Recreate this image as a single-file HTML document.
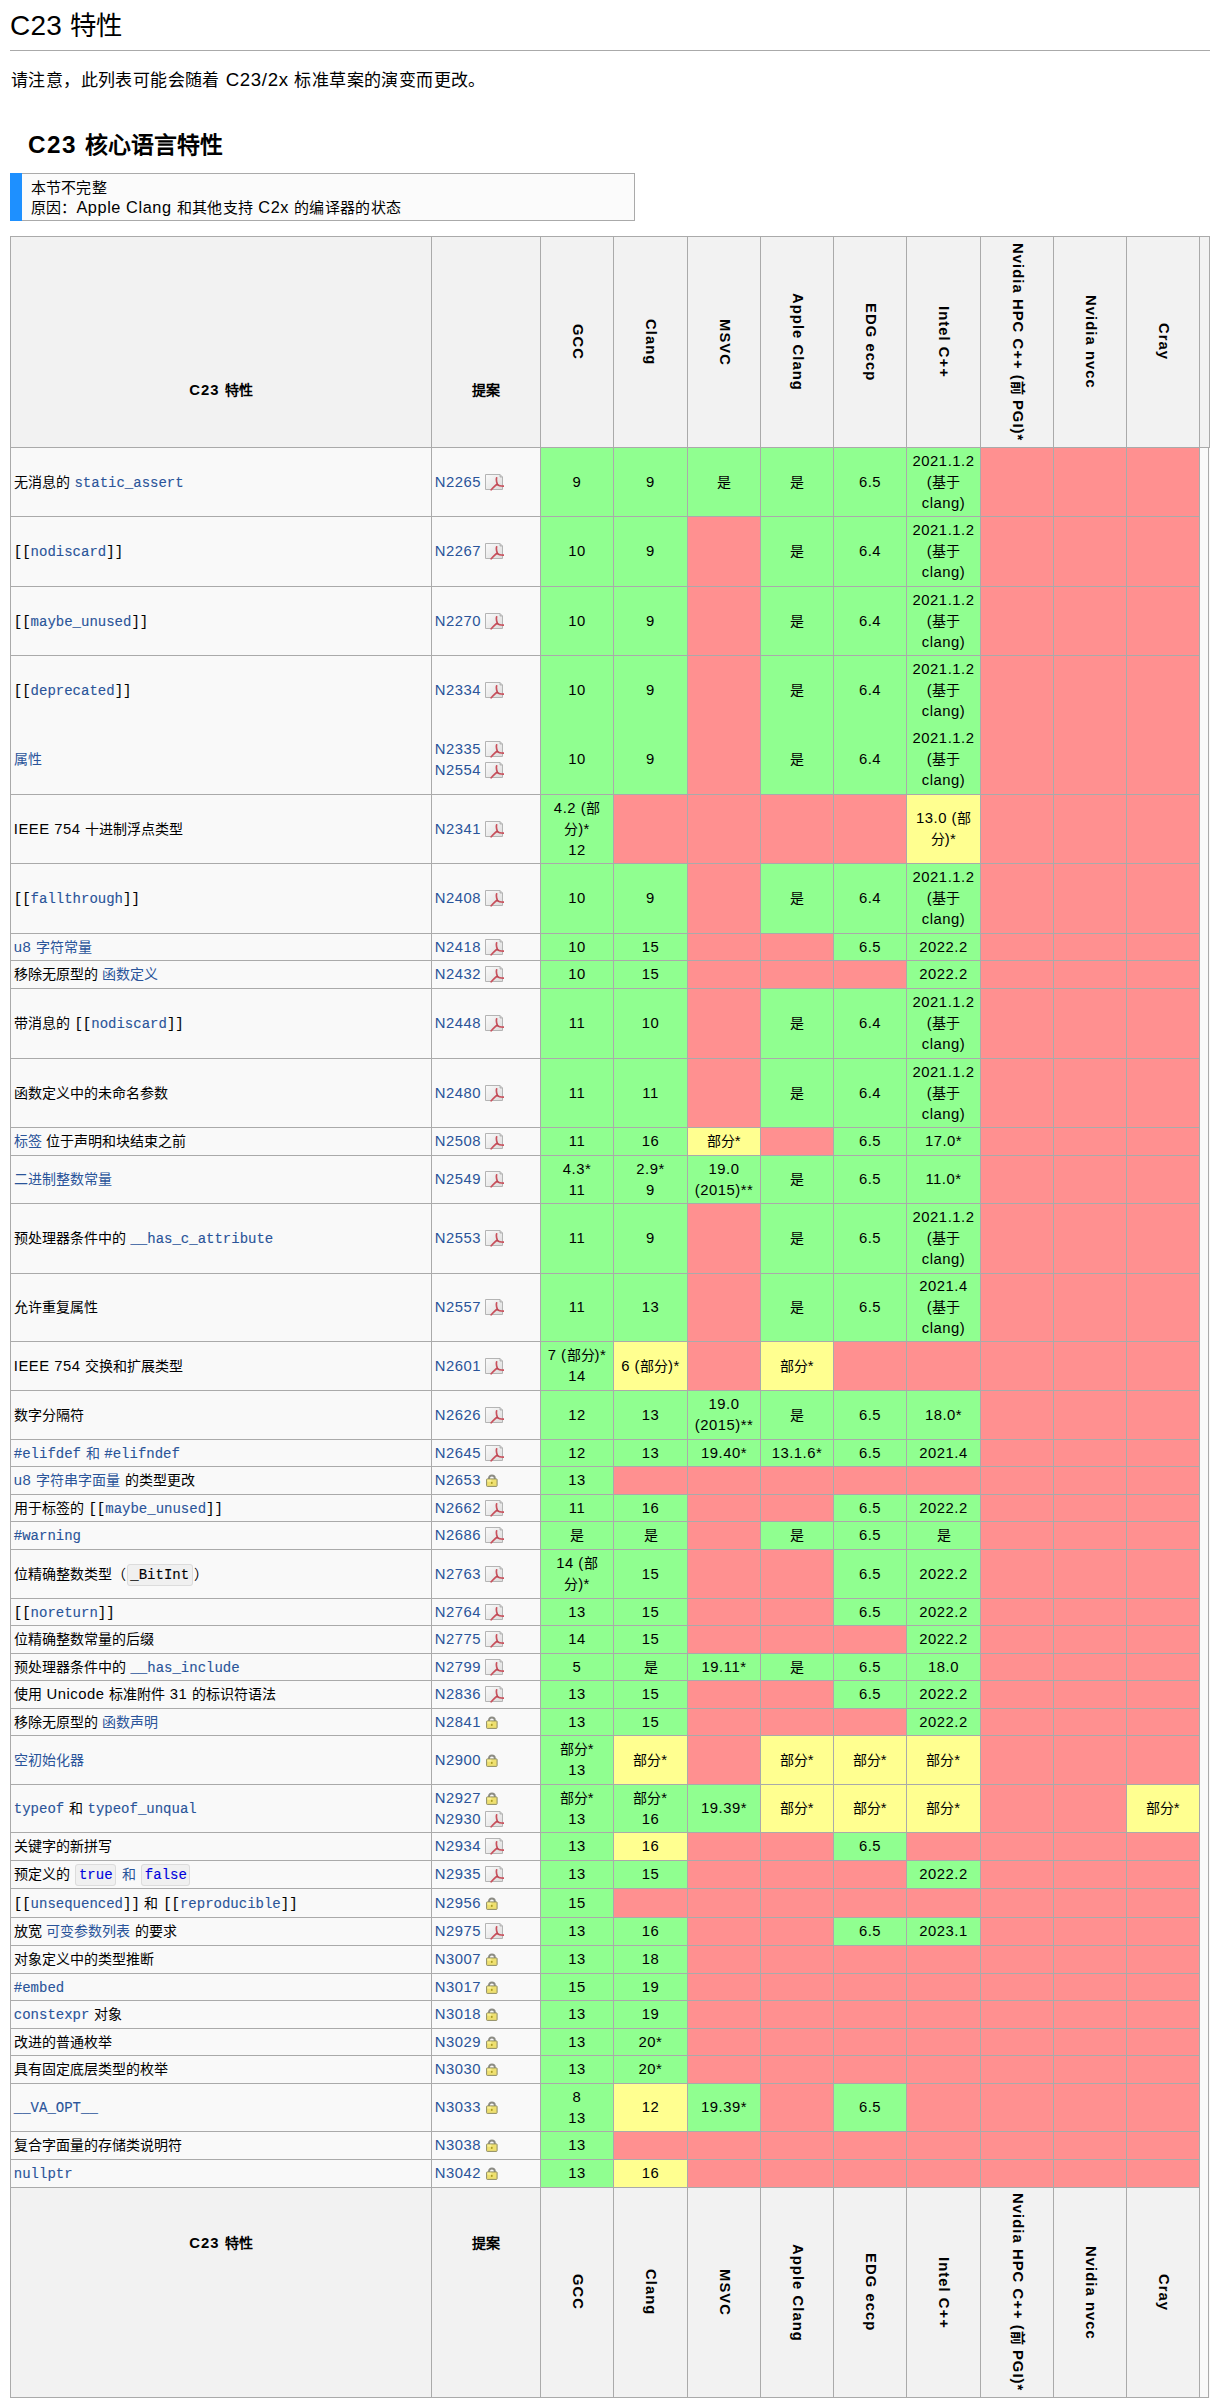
<!DOCTYPE html>
<html lang="zh-CN"><head><meta charset="utf-8"><title>C23</title><style>
html,body{margin:0;padding:0;background:#fff;}
body{width:1219px;height:2406px;position:relative;overflow:hidden;font-family:"Liberation Sans",sans-serif;color:#000;}
.l{font-size:1.06em;letter-spacing:0.035em;line-height:0;}
.abs{position:absolute;white-space:nowrap;}
#title{left:10px;top:1px;font-size:26.4px;line-height:50px;}
#title .l{letter-spacing:0.2px;}
#hr{left:10px;top:50px;width:1200px;height:1px;background:#aaa;}
#para{left:11px;top:66.8px;font-size:17.6px;line-height:26px;}
#para .z{font-size:17px;letter-spacing:0.4px;line-height:0;}
#h3{left:28px;top:130px;font-size:22.9px;line-height:30px;font-weight:bold;}
#h3 .l{letter-spacing:0.06em;}
#notice{left:10px;top:173px;width:612px;height:46px;border:1px solid #aaa;border-left:12px solid #aaa;background:#fbfbfb;font-size:15.4px;line-height:19.7px;}
#notice .bar{position:absolute;left:-12px;top:-1px;width:12px;height:48px;background:#1e90ff;}
#notice .in{position:absolute;left:8.5px;top:4.3px;}
#notice .z{font-size:15px;letter-spacing:0.3px;line-height:0;}
table{position:absolute;left:10px;top:236px;border-collapse:collapse;table-layout:fixed;background:#f9f9f9;font-size:14px;line-height:21px;}
td,th{border:1px solid #aaa;padding:0 2.8px;white-space:nowrap;overflow:hidden;}
th{background:#f2f2f2;font-weight:bold;}
th .l{letter-spacing:0.07em;}
td.g{background:#90ff90;text-align:center;}
td.r{background:#ff9090;}
td.y{background:#ffff90;text-align:center;}
td.f{text-align:left;}
td.p{text-align:left;}
.a{color:#2a5499;}
.m{font-family:"Liberation Mono",monospace;font-size:14px;line-height:0;-webkit-text-stroke:0.12px currentColor;}
.m.a{color:#2a5499;}
.box{font-family:"Liberation Mono",monospace;font-size:14px;-webkit-text-stroke:0.12px currentColor;background:#f0f0f0;border:1px solid #dcdcdc;border-radius:3px;padding:2px 2.5px;margin:0 1px;line-height:0;}
.kw{color:#0000dd;}
.pdf{vertical-align:-4px;margin-left:4px;}
.lock{vertical-align:-2px;margin-left:4px;}
tr.top{height:211px;}
tr.bot{height:210px;}
th.rot{vertical-align:middle;text-align:center;}
.rt{writing-mode:vertical-rl;text-orientation:sideways;display:block;margin:0 auto;}
tr.top th.fh{vertical-align:bottom;padding-bottom:46px;}
tr.bot th.fh{vertical-align:top;padding-top:45px;}
tr.nb td{border-bottom:hidden;}
</style></head>
<body>
<div id="title" class="abs"><span class="l">C23 </span><span class="z">特性</span></div>
<div id="hr" class="abs"></div>
<div id="para" class="abs"><span class="z">请注意，此列表可能会随着</span><span class="l"> C23/2x </span><span class="z">标准草案的演变而更改。</span></div>
<div id="h3" class="abs"><span class="l">C23 </span><span class="z">核心语言特性</span></div>
<div id="notice" class="abs"><div class="bar"></div><div class="in"><span class="z">本节不完整</span><br><span class="z">原因：</span><span class="l">Apple Clang </span><span class="z">和其他支持</span><span class="l"> C2x </span><span class="z">的编译器的状态</span></div></div>
<table>
<colgroup><col style="width:421px"><col style="width:109px"><col style="width:73px"><col style="width:74px"><col style="width:73px"><col style="width:73px"><col style="width:73px"><col style="width:74px"><col style="width:73px"><col style="width:73px"><col style="width:73px"><col style="width:10px"></colgroup>
<tr class="top"><th class="fh"><div class="hl"><span class="l">C23 </span><span class="z">特性</span></div></th><th class="fh"><div class="hl"><span class="z">提案</span></div></th><th class="rot"><div class="rt"><span class="l">GCC</span></div></th><th class="rot"><div class="rt"><span class="l">Clang</span></div></th><th class="rot"><div class="rt"><span class="l">MSVC</span></div></th><th class="rot"><div class="rt"><span class="l">Apple Clang</span></div></th><th class="rot"><div class="rt"><span class="l">EDG eccp</span></div></th><th class="rot"><div class="rt"><span class="l">Intel C++</span></div></th><th class="rot"><div class="rt"><span class="l">Nvidia HPC C++ (</span><span class="z">前</span><span class="l"> PGI)*</span></div></th><th class="rot"><div class="rt"><span class="l">Nvidia nvcc</span></div></th><th class="rot"><div class="rt"><span class="l">Cray</span></div></th><th class="ex"></th></tr>
<tr class="b" style="height:69px"><td class="f"><span class="z">无消息的</span><span class="l"> </span><span class="m a">static_assert</span></td><td class="p"><span class="a"><span class="l">N2265</span></span><svg class="pdf" width="19" height="17" viewBox="0 0 19 17"><defs><linearGradient id="pg" x1="0" y1="0" x2="1" y2="1"><stop offset="0" stop-color="#fbfbfb"/><stop offset="1" stop-color="#dcdcdc"/></linearGradient></defs><path d="M0.5 0.5H15L17.5 3V15.5H0.5Z" fill="url(#pg)" stroke="#b4b4b4"/><path d="M15 0.5V3H17.5" fill="#d0d0d0" stroke="#a8a8a8" stroke-width="0.8"/><path d="M11.6 3.9C11.2 5.5 11.6 8.2 12.4 10.2C13.4 11.6 15.8 12.1 18.6 12.1M12.2 10.4C10.6 11 8.2 13.6 6.2 15.8" fill="none" stroke="#c9505c" stroke-width="1.7" stroke-linecap="round"/><path d="M11.4 10.4C12.4 9.6 13.6 10.8 13.2 11.8" fill="none" stroke="#b04450" stroke-width="1"/></svg></td><td class="g"><span class="l">9</span></td><td class="g"><span class="l">9</span></td><td class="g"><span class="z">是</span></td><td class="g"><span class="z">是</span></td><td class="g"><span class="l">6.5</span></td><td class="g"><span class="l">2021.1.2</span><br><span class="l">(</span><span class="z">基于</span><br><span class="l">clang)</span></td><td class="r"></td><td class="r"></td><td class="r"></td></tr>
<tr class="b" style="height:70px"><td class="f"><span class="m">[[</span><span class="m a">nodiscard</span><span class="m">]]</span></td><td class="p"><span class="a"><span class="l">N2267</span></span><svg class="pdf" width="19" height="17" viewBox="0 0 19 17"><defs><linearGradient id="pg" x1="0" y1="0" x2="1" y2="1"><stop offset="0" stop-color="#fbfbfb"/><stop offset="1" stop-color="#dcdcdc"/></linearGradient></defs><path d="M0.5 0.5H15L17.5 3V15.5H0.5Z" fill="url(#pg)" stroke="#b4b4b4"/><path d="M15 0.5V3H17.5" fill="#d0d0d0" stroke="#a8a8a8" stroke-width="0.8"/><path d="M11.6 3.9C11.2 5.5 11.6 8.2 12.4 10.2C13.4 11.6 15.8 12.1 18.6 12.1M12.2 10.4C10.6 11 8.2 13.6 6.2 15.8" fill="none" stroke="#c9505c" stroke-width="1.7" stroke-linecap="round"/><path d="M11.4 10.4C12.4 9.6 13.6 10.8 13.2 11.8" fill="none" stroke="#b04450" stroke-width="1"/></svg></td><td class="g"><span class="l">10</span></td><td class="g"><span class="l">9</span></td><td class="r"></td><td class="g"><span class="z">是</span></td><td class="g"><span class="l">6.4</span></td><td class="g"><span class="l">2021.1.2</span><br><span class="l">(</span><span class="z">基于</span><br><span class="l">clang)</span></td><td class="r"></td><td class="r"></td><td class="r"></td></tr>
<tr class="b" style="height:69px"><td class="f"><span class="m">[[</span><span class="m a">maybe_unused</span><span class="m">]]</span></td><td class="p"><span class="a"><span class="l">N2270</span></span><svg class="pdf" width="19" height="17" viewBox="0 0 19 17"><defs><linearGradient id="pg" x1="0" y1="0" x2="1" y2="1"><stop offset="0" stop-color="#fbfbfb"/><stop offset="1" stop-color="#dcdcdc"/></linearGradient></defs><path d="M0.5 0.5H15L17.5 3V15.5H0.5Z" fill="url(#pg)" stroke="#b4b4b4"/><path d="M15 0.5V3H17.5" fill="#d0d0d0" stroke="#a8a8a8" stroke-width="0.8"/><path d="M11.6 3.9C11.2 5.5 11.6 8.2 12.4 10.2C13.4 11.6 15.8 12.1 18.6 12.1M12.2 10.4C10.6 11 8.2 13.6 6.2 15.8" fill="none" stroke="#c9505c" stroke-width="1.7" stroke-linecap="round"/><path d="M11.4 10.4C12.4 9.6 13.6 10.8 13.2 11.8" fill="none" stroke="#b04450" stroke-width="1"/></svg></td><td class="g"><span class="l">10</span></td><td class="g"><span class="l">9</span></td><td class="r"></td><td class="g"><span class="z">是</span></td><td class="g"><span class="l">6.4</span></td><td class="g"><span class="l">2021.1.2</span><br><span class="l">(</span><span class="z">基于</span><br><span class="l">clang)</span></td><td class="r"></td><td class="r"></td><td class="r"></td></tr>
<tr class="b nb" style="height:70px"><td class="f"><span class="m">[[</span><span class="m a">deprecated</span><span class="m">]]</span></td><td class="p"><span class="a"><span class="l">N2334</span></span><svg class="pdf" width="19" height="17" viewBox="0 0 19 17"><defs><linearGradient id="pg" x1="0" y1="0" x2="1" y2="1"><stop offset="0" stop-color="#fbfbfb"/><stop offset="1" stop-color="#dcdcdc"/></linearGradient></defs><path d="M0.5 0.5H15L17.5 3V15.5H0.5Z" fill="url(#pg)" stroke="#b4b4b4"/><path d="M15 0.5V3H17.5" fill="#d0d0d0" stroke="#a8a8a8" stroke-width="0.8"/><path d="M11.6 3.9C11.2 5.5 11.6 8.2 12.4 10.2C13.4 11.6 15.8 12.1 18.6 12.1M12.2 10.4C10.6 11 8.2 13.6 6.2 15.8" fill="none" stroke="#c9505c" stroke-width="1.7" stroke-linecap="round"/><path d="M11.4 10.4C12.4 9.6 13.6 10.8 13.2 11.8" fill="none" stroke="#b04450" stroke-width="1"/></svg></td><td class="g"><span class="l">10</span></td><td class="g"><span class="l">9</span></td><td class="r"></td><td class="g"><span class="z">是</span></td><td class="g"><span class="l">6.4</span></td><td class="g"><span class="l">2021.1.2</span><br><span class="l">(</span><span class="z">基于</span><br><span class="l">clang)</span></td><td class="r"></td><td class="r"></td><td class="r"></td></tr>
<tr class="b" style="height:69px"><td class="f"><span class="a"><span class="z">属性</span></span></td><td class="p"><span class="a"><span class="l">N2335</span></span><svg class="pdf" width="19" height="17" viewBox="0 0 19 17"><defs><linearGradient id="pg" x1="0" y1="0" x2="1" y2="1"><stop offset="0" stop-color="#fbfbfb"/><stop offset="1" stop-color="#dcdcdc"/></linearGradient></defs><path d="M0.5 0.5H15L17.5 3V15.5H0.5Z" fill="url(#pg)" stroke="#b4b4b4"/><path d="M15 0.5V3H17.5" fill="#d0d0d0" stroke="#a8a8a8" stroke-width="0.8"/><path d="M11.6 3.9C11.2 5.5 11.6 8.2 12.4 10.2C13.4 11.6 15.8 12.1 18.6 12.1M12.2 10.4C10.6 11 8.2 13.6 6.2 15.8" fill="none" stroke="#c9505c" stroke-width="1.7" stroke-linecap="round"/><path d="M11.4 10.4C12.4 9.6 13.6 10.8 13.2 11.8" fill="none" stroke="#b04450" stroke-width="1"/></svg><br><span class="a"><span class="l">N2554</span></span><svg class="pdf" width="19" height="17" viewBox="0 0 19 17"><defs><linearGradient id="pg" x1="0" y1="0" x2="1" y2="1"><stop offset="0" stop-color="#fbfbfb"/><stop offset="1" stop-color="#dcdcdc"/></linearGradient></defs><path d="M0.5 0.5H15L17.5 3V15.5H0.5Z" fill="url(#pg)" stroke="#b4b4b4"/><path d="M15 0.5V3H17.5" fill="#d0d0d0" stroke="#a8a8a8" stroke-width="0.8"/><path d="M11.6 3.9C11.2 5.5 11.6 8.2 12.4 10.2C13.4 11.6 15.8 12.1 18.6 12.1M12.2 10.4C10.6 11 8.2 13.6 6.2 15.8" fill="none" stroke="#c9505c" stroke-width="1.7" stroke-linecap="round"/><path d="M11.4 10.4C12.4 9.6 13.6 10.8 13.2 11.8" fill="none" stroke="#b04450" stroke-width="1"/></svg></td><td class="g"><span class="l">10</span></td><td class="g"><span class="l">9</span></td><td class="r"></td><td class="g"><span class="z">是</span></td><td class="g"><span class="l">6.4</span></td><td class="g"><span class="l">2021.1.2</span><br><span class="l">(</span><span class="z">基于</span><br><span class="l">clang)</span></td><td class="r"></td><td class="r"></td><td class="r"></td></tr>
<tr class="b" style="height:69px"><td class="f"><span class="l">IEEE 754 </span><span class="z">十进制浮点类型</span></td><td class="p"><span class="a"><span class="l">N2341</span></span><svg class="pdf" width="19" height="17" viewBox="0 0 19 17"><defs><linearGradient id="pg" x1="0" y1="0" x2="1" y2="1"><stop offset="0" stop-color="#fbfbfb"/><stop offset="1" stop-color="#dcdcdc"/></linearGradient></defs><path d="M0.5 0.5H15L17.5 3V15.5H0.5Z" fill="url(#pg)" stroke="#b4b4b4"/><path d="M15 0.5V3H17.5" fill="#d0d0d0" stroke="#a8a8a8" stroke-width="0.8"/><path d="M11.6 3.9C11.2 5.5 11.6 8.2 12.4 10.2C13.4 11.6 15.8 12.1 18.6 12.1M12.2 10.4C10.6 11 8.2 13.6 6.2 15.8" fill="none" stroke="#c9505c" stroke-width="1.7" stroke-linecap="round"/><path d="M11.4 10.4C12.4 9.6 13.6 10.8 13.2 11.8" fill="none" stroke="#b04450" stroke-width="1"/></svg></td><td class="g"><span class="l">4.2 (</span><span class="z">部</span><br><span class="z">分</span><span class="l">)*</span><br><span class="l">12</span></td><td class="r"></td><td class="r"></td><td class="r"></td><td class="r"></td><td class="y"><span class="l">13.0 (</span><span class="z">部</span><br><span class="z">分</span><span class="l">)*</span></td><td class="r"></td><td class="r"></td><td class="r"></td></tr>
<tr class="b" style="height:70px"><td class="f"><span class="m">[[</span><span class="m a">fallthrough</span><span class="m">]]</span></td><td class="p"><span class="a"><span class="l">N2408</span></span><svg class="pdf" width="19" height="17" viewBox="0 0 19 17"><defs><linearGradient id="pg" x1="0" y1="0" x2="1" y2="1"><stop offset="0" stop-color="#fbfbfb"/><stop offset="1" stop-color="#dcdcdc"/></linearGradient></defs><path d="M0.5 0.5H15L17.5 3V15.5H0.5Z" fill="url(#pg)" stroke="#b4b4b4"/><path d="M15 0.5V3H17.5" fill="#d0d0d0" stroke="#a8a8a8" stroke-width="0.8"/><path d="M11.6 3.9C11.2 5.5 11.6 8.2 12.4 10.2C13.4 11.6 15.8 12.1 18.6 12.1M12.2 10.4C10.6 11 8.2 13.6 6.2 15.8" fill="none" stroke="#c9505c" stroke-width="1.7" stroke-linecap="round"/><path d="M11.4 10.4C12.4 9.6 13.6 10.8 13.2 11.8" fill="none" stroke="#b04450" stroke-width="1"/></svg></td><td class="g"><span class="l">10</span></td><td class="g"><span class="l">9</span></td><td class="r"></td><td class="g"><span class="z">是</span></td><td class="g"><span class="l">6.4</span></td><td class="g"><span class="l">2021.1.2</span><br><span class="l">(</span><span class="z">基于</span><br><span class="l">clang)</span></td><td class="r"></td><td class="r"></td><td class="r"></td></tr>
<tr class="b" style="height:27px"><td class="f"><span class="a"><span class="l">u8 </span><span class="z">字符常量</span></span></td><td class="p"><span class="a"><span class="l">N2418</span></span><svg class="pdf" width="19" height="17" viewBox="0 0 19 17"><defs><linearGradient id="pg" x1="0" y1="0" x2="1" y2="1"><stop offset="0" stop-color="#fbfbfb"/><stop offset="1" stop-color="#dcdcdc"/></linearGradient></defs><path d="M0.5 0.5H15L17.5 3V15.5H0.5Z" fill="url(#pg)" stroke="#b4b4b4"/><path d="M15 0.5V3H17.5" fill="#d0d0d0" stroke="#a8a8a8" stroke-width="0.8"/><path d="M11.6 3.9C11.2 5.5 11.6 8.2 12.4 10.2C13.4 11.6 15.8 12.1 18.6 12.1M12.2 10.4C10.6 11 8.2 13.6 6.2 15.8" fill="none" stroke="#c9505c" stroke-width="1.7" stroke-linecap="round"/><path d="M11.4 10.4C12.4 9.6 13.6 10.8 13.2 11.8" fill="none" stroke="#b04450" stroke-width="1"/></svg></td><td class="g"><span class="l">10</span></td><td class="g"><span class="l">15</span></td><td class="r"></td><td class="r"></td><td class="g"><span class="l">6.5</span></td><td class="g"><span class="l">2022.2</span></td><td class="r"></td><td class="r"></td><td class="r"></td></tr>
<tr class="b" style="height:28px"><td class="f"><span class="z">移除无原型的</span><span class="l"> </span><span class="a"><span class="z">函数定义</span></span></td><td class="p"><span class="a"><span class="l">N2432</span></span><svg class="pdf" width="19" height="17" viewBox="0 0 19 17"><defs><linearGradient id="pg" x1="0" y1="0" x2="1" y2="1"><stop offset="0" stop-color="#fbfbfb"/><stop offset="1" stop-color="#dcdcdc"/></linearGradient></defs><path d="M0.5 0.5H15L17.5 3V15.5H0.5Z" fill="url(#pg)" stroke="#b4b4b4"/><path d="M15 0.5V3H17.5" fill="#d0d0d0" stroke="#a8a8a8" stroke-width="0.8"/><path d="M11.6 3.9C11.2 5.5 11.6 8.2 12.4 10.2C13.4 11.6 15.8 12.1 18.6 12.1M12.2 10.4C10.6 11 8.2 13.6 6.2 15.8" fill="none" stroke="#c9505c" stroke-width="1.7" stroke-linecap="round"/><path d="M11.4 10.4C12.4 9.6 13.6 10.8 13.2 11.8" fill="none" stroke="#b04450" stroke-width="1"/></svg></td><td class="g"><span class="l">10</span></td><td class="g"><span class="l">15</span></td><td class="r"></td><td class="r"></td><td class="r"></td><td class="g"><span class="l">2022.2</span></td><td class="r"></td><td class="r"></td><td class="r"></td></tr>
<tr class="b" style="height:70px"><td class="f"><span class="z">带消息的</span><span class="l"> </span><span class="m">[[</span><span class="m a">nodiscard</span><span class="m">]]</span></td><td class="p"><span class="a"><span class="l">N2448</span></span><svg class="pdf" width="19" height="17" viewBox="0 0 19 17"><defs><linearGradient id="pg" x1="0" y1="0" x2="1" y2="1"><stop offset="0" stop-color="#fbfbfb"/><stop offset="1" stop-color="#dcdcdc"/></linearGradient></defs><path d="M0.5 0.5H15L17.5 3V15.5H0.5Z" fill="url(#pg)" stroke="#b4b4b4"/><path d="M15 0.5V3H17.5" fill="#d0d0d0" stroke="#a8a8a8" stroke-width="0.8"/><path d="M11.6 3.9C11.2 5.5 11.6 8.2 12.4 10.2C13.4 11.6 15.8 12.1 18.6 12.1M12.2 10.4C10.6 11 8.2 13.6 6.2 15.8" fill="none" stroke="#c9505c" stroke-width="1.7" stroke-linecap="round"/><path d="M11.4 10.4C12.4 9.6 13.6 10.8 13.2 11.8" fill="none" stroke="#b04450" stroke-width="1"/></svg></td><td class="g"><span class="l">11</span></td><td class="g"><span class="l">10</span></td><td class="r"></td><td class="g"><span class="z">是</span></td><td class="g"><span class="l">6.4</span></td><td class="g"><span class="l">2021.1.2</span><br><span class="l">(</span><span class="z">基于</span><br><span class="l">clang)</span></td><td class="r"></td><td class="r"></td><td class="r"></td></tr>
<tr class="b" style="height:69px"><td class="f"><span class="z">函数定义中的未命名参数</span></td><td class="p"><span class="a"><span class="l">N2480</span></span><svg class="pdf" width="19" height="17" viewBox="0 0 19 17"><defs><linearGradient id="pg" x1="0" y1="0" x2="1" y2="1"><stop offset="0" stop-color="#fbfbfb"/><stop offset="1" stop-color="#dcdcdc"/></linearGradient></defs><path d="M0.5 0.5H15L17.5 3V15.5H0.5Z" fill="url(#pg)" stroke="#b4b4b4"/><path d="M15 0.5V3H17.5" fill="#d0d0d0" stroke="#a8a8a8" stroke-width="0.8"/><path d="M11.6 3.9C11.2 5.5 11.6 8.2 12.4 10.2C13.4 11.6 15.8 12.1 18.6 12.1M12.2 10.4C10.6 11 8.2 13.6 6.2 15.8" fill="none" stroke="#c9505c" stroke-width="1.7" stroke-linecap="round"/><path d="M11.4 10.4C12.4 9.6 13.6 10.8 13.2 11.8" fill="none" stroke="#b04450" stroke-width="1"/></svg></td><td class="g"><span class="l">11</span></td><td class="g"><span class="l">11</span></td><td class="r"></td><td class="g"><span class="z">是</span></td><td class="g"><span class="l">6.4</span></td><td class="g"><span class="l">2021.1.2</span><br><span class="l">(</span><span class="z">基于</span><br><span class="l">clang)</span></td><td class="r"></td><td class="r"></td><td class="r"></td></tr>
<tr class="b" style="height:28px"><td class="f"><span class="a"><span class="z">标签</span></span><span class="l"> </span><span class="z">位于声明和块结束之前</span></td><td class="p"><span class="a"><span class="l">N2508</span></span><svg class="pdf" width="19" height="17" viewBox="0 0 19 17"><defs><linearGradient id="pg" x1="0" y1="0" x2="1" y2="1"><stop offset="0" stop-color="#fbfbfb"/><stop offset="1" stop-color="#dcdcdc"/></linearGradient></defs><path d="M0.5 0.5H15L17.5 3V15.5H0.5Z" fill="url(#pg)" stroke="#b4b4b4"/><path d="M15 0.5V3H17.5" fill="#d0d0d0" stroke="#a8a8a8" stroke-width="0.8"/><path d="M11.6 3.9C11.2 5.5 11.6 8.2 12.4 10.2C13.4 11.6 15.8 12.1 18.6 12.1M12.2 10.4C10.6 11 8.2 13.6 6.2 15.8" fill="none" stroke="#c9505c" stroke-width="1.7" stroke-linecap="round"/><path d="M11.4 10.4C12.4 9.6 13.6 10.8 13.2 11.8" fill="none" stroke="#b04450" stroke-width="1"/></svg></td><td class="g"><span class="l">11</span></td><td class="g"><span class="l">16</span></td><td class="y"><span class="z">部分</span><span class="l">*</span></td><td class="r"></td><td class="g"><span class="l">6.5</span></td><td class="g"><span class="l">17.0*</span></td><td class="r"></td><td class="r"></td><td class="r"></td></tr>
<tr class="b" style="height:48px"><td class="f"><span class="a"><span class="z">二进制整数常量</span></span></td><td class="p"><span class="a"><span class="l">N2549</span></span><svg class="pdf" width="19" height="17" viewBox="0 0 19 17"><defs><linearGradient id="pg" x1="0" y1="0" x2="1" y2="1"><stop offset="0" stop-color="#fbfbfb"/><stop offset="1" stop-color="#dcdcdc"/></linearGradient></defs><path d="M0.5 0.5H15L17.5 3V15.5H0.5Z" fill="url(#pg)" stroke="#b4b4b4"/><path d="M15 0.5V3H17.5" fill="#d0d0d0" stroke="#a8a8a8" stroke-width="0.8"/><path d="M11.6 3.9C11.2 5.5 11.6 8.2 12.4 10.2C13.4 11.6 15.8 12.1 18.6 12.1M12.2 10.4C10.6 11 8.2 13.6 6.2 15.8" fill="none" stroke="#c9505c" stroke-width="1.7" stroke-linecap="round"/><path d="M11.4 10.4C12.4 9.6 13.6 10.8 13.2 11.8" fill="none" stroke="#b04450" stroke-width="1"/></svg></td><td class="g"><span class="l">4.3*</span><br><span class="l">11</span></td><td class="g"><span class="l">2.9*</span><br><span class="l">9</span></td><td class="g"><span class="l">19.0</span><br><span class="l">(2015)**</span></td><td class="g"><span class="z">是</span></td><td class="g"><span class="l">6.5</span></td><td class="g"><span class="l">11.0*</span></td><td class="r"></td><td class="r"></td><td class="r"></td></tr>
<tr class="b" style="height:70px"><td class="f"><span class="z">预处理器条件中的</span><span class="l"> </span><span class="m a">__has_c_attribute</span></td><td class="p"><span class="a"><span class="l">N2553</span></span><svg class="pdf" width="19" height="17" viewBox="0 0 19 17"><defs><linearGradient id="pg" x1="0" y1="0" x2="1" y2="1"><stop offset="0" stop-color="#fbfbfb"/><stop offset="1" stop-color="#dcdcdc"/></linearGradient></defs><path d="M0.5 0.5H15L17.5 3V15.5H0.5Z" fill="url(#pg)" stroke="#b4b4b4"/><path d="M15 0.5V3H17.5" fill="#d0d0d0" stroke="#a8a8a8" stroke-width="0.8"/><path d="M11.6 3.9C11.2 5.5 11.6 8.2 12.4 10.2C13.4 11.6 15.8 12.1 18.6 12.1M12.2 10.4C10.6 11 8.2 13.6 6.2 15.8" fill="none" stroke="#c9505c" stroke-width="1.7" stroke-linecap="round"/><path d="M11.4 10.4C12.4 9.6 13.6 10.8 13.2 11.8" fill="none" stroke="#b04450" stroke-width="1"/></svg></td><td class="g"><span class="l">11</span></td><td class="g"><span class="l">9</span></td><td class="r"></td><td class="g"><span class="z">是</span></td><td class="g"><span class="l">6.5</span></td><td class="g"><span class="l">2021.1.2</span><br><span class="l">(</span><span class="z">基于</span><br><span class="l">clang)</span></td><td class="r"></td><td class="r"></td><td class="r"></td></tr>
<tr class="b" style="height:68px"><td class="f"><span class="z">允许重复属性</span></td><td class="p"><span class="a"><span class="l">N2557</span></span><svg class="pdf" width="19" height="17" viewBox="0 0 19 17"><defs><linearGradient id="pg" x1="0" y1="0" x2="1" y2="1"><stop offset="0" stop-color="#fbfbfb"/><stop offset="1" stop-color="#dcdcdc"/></linearGradient></defs><path d="M0.5 0.5H15L17.5 3V15.5H0.5Z" fill="url(#pg)" stroke="#b4b4b4"/><path d="M15 0.5V3H17.5" fill="#d0d0d0" stroke="#a8a8a8" stroke-width="0.8"/><path d="M11.6 3.9C11.2 5.5 11.6 8.2 12.4 10.2C13.4 11.6 15.8 12.1 18.6 12.1M12.2 10.4C10.6 11 8.2 13.6 6.2 15.8" fill="none" stroke="#c9505c" stroke-width="1.7" stroke-linecap="round"/><path d="M11.4 10.4C12.4 9.6 13.6 10.8 13.2 11.8" fill="none" stroke="#b04450" stroke-width="1"/></svg></td><td class="g"><span class="l">11</span></td><td class="g"><span class="l">13</span></td><td class="r"></td><td class="g"><span class="z">是</span></td><td class="g"><span class="l">6.5</span></td><td class="g"><span class="l">2021.4</span><br><span class="l">(</span><span class="z">基于</span><br><span class="l">clang)</span></td><td class="r"></td><td class="r"></td><td class="r"></td></tr>
<tr class="b" style="height:49px"><td class="f"><span class="l">IEEE 754 </span><span class="z">交换和扩展类型</span></td><td class="p"><span class="a"><span class="l">N2601</span></span><svg class="pdf" width="19" height="17" viewBox="0 0 19 17"><defs><linearGradient id="pg" x1="0" y1="0" x2="1" y2="1"><stop offset="0" stop-color="#fbfbfb"/><stop offset="1" stop-color="#dcdcdc"/></linearGradient></defs><path d="M0.5 0.5H15L17.5 3V15.5H0.5Z" fill="url(#pg)" stroke="#b4b4b4"/><path d="M15 0.5V3H17.5" fill="#d0d0d0" stroke="#a8a8a8" stroke-width="0.8"/><path d="M11.6 3.9C11.2 5.5 11.6 8.2 12.4 10.2C13.4 11.6 15.8 12.1 18.6 12.1M12.2 10.4C10.6 11 8.2 13.6 6.2 15.8" fill="none" stroke="#c9505c" stroke-width="1.7" stroke-linecap="round"/><path d="M11.4 10.4C12.4 9.6 13.6 10.8 13.2 11.8" fill="none" stroke="#b04450" stroke-width="1"/></svg></td><td class="g"><span class="l">7 (</span><span class="z">部分</span><span class="l">)*</span><br><span class="l">14</span></td><td class="y"><span class="l">6 (</span><span class="z">部分</span><span class="l">)*</span></td><td class="r"></td><td class="y"><span class="z">部分</span><span class="l">*</span></td><td class="r"></td><td class="r"></td><td class="r"></td><td class="r"></td><td class="r"></td></tr>
<tr class="b" style="height:49px"><td class="f"><span class="z">数字分隔符</span></td><td class="p"><span class="a"><span class="l">N2626</span></span><svg class="pdf" width="19" height="17" viewBox="0 0 19 17"><defs><linearGradient id="pg" x1="0" y1="0" x2="1" y2="1"><stop offset="0" stop-color="#fbfbfb"/><stop offset="1" stop-color="#dcdcdc"/></linearGradient></defs><path d="M0.5 0.5H15L17.5 3V15.5H0.5Z" fill="url(#pg)" stroke="#b4b4b4"/><path d="M15 0.5V3H17.5" fill="#d0d0d0" stroke="#a8a8a8" stroke-width="0.8"/><path d="M11.6 3.9C11.2 5.5 11.6 8.2 12.4 10.2C13.4 11.6 15.8 12.1 18.6 12.1M12.2 10.4C10.6 11 8.2 13.6 6.2 15.8" fill="none" stroke="#c9505c" stroke-width="1.7" stroke-linecap="round"/><path d="M11.4 10.4C12.4 9.6 13.6 10.8 13.2 11.8" fill="none" stroke="#b04450" stroke-width="1"/></svg></td><td class="g"><span class="l">12</span></td><td class="g"><span class="l">13</span></td><td class="g"><span class="l">19.0</span><br><span class="l">(2015)**</span></td><td class="g"><span class="z">是</span></td><td class="g"><span class="l">6.5</span></td><td class="g"><span class="l">18.0*</span></td><td class="r"></td><td class="r"></td><td class="r"></td></tr>
<tr class="b" style="height:27px"><td class="f"><span class="m a">#elifdef</span><span class="l"> </span><span class="a"><span class="z">和</span></span><span class="l"> </span><span class="m a">#elifndef</span></td><td class="p"><span class="a"><span class="l">N2645</span></span><svg class="pdf" width="19" height="17" viewBox="0 0 19 17"><defs><linearGradient id="pg" x1="0" y1="0" x2="1" y2="1"><stop offset="0" stop-color="#fbfbfb"/><stop offset="1" stop-color="#dcdcdc"/></linearGradient></defs><path d="M0.5 0.5H15L17.5 3V15.5H0.5Z" fill="url(#pg)" stroke="#b4b4b4"/><path d="M15 0.5V3H17.5" fill="#d0d0d0" stroke="#a8a8a8" stroke-width="0.8"/><path d="M11.6 3.9C11.2 5.5 11.6 8.2 12.4 10.2C13.4 11.6 15.8 12.1 18.6 12.1M12.2 10.4C10.6 11 8.2 13.6 6.2 15.8" fill="none" stroke="#c9505c" stroke-width="1.7" stroke-linecap="round"/><path d="M11.4 10.4C12.4 9.6 13.6 10.8 13.2 11.8" fill="none" stroke="#b04450" stroke-width="1"/></svg></td><td class="g"><span class="l">12</span></td><td class="g"><span class="l">13</span></td><td class="g"><span class="l">19.40*</span></td><td class="g"><span class="l">13.1.6*</span></td><td class="g"><span class="l">6.5</span></td><td class="g"><span class="l">2021.4</span></td><td class="r"></td><td class="r"></td><td class="r"></td></tr>
<tr class="b" style="height:28px"><td class="f"><span class="a"><span class="l">u8 </span><span class="z">字符串字面量</span></span><span class="l"> </span><span class="z">的类型更改</span></td><td class="p"><span class="a"><span class="l">N2653</span></span><svg class="lock" width="13" height="13" viewBox="0 0 13 13"><path d="M4 5.2V4.3C4 2.3 5.1 1.5 6.9 1.5C8.7 1.5 9.8 2.3 9.8 4.3V5.2" fill="none" stroke="#8c8c84" stroke-width="1.9"/><rect x="1.6" y="4.9" width="10.5" height="7.5" rx="0.7" fill="#efe070" stroke="#8e8c66" stroke-width="1"/><rect x="2.4" y="5.7" width="4" height="2" fill="#f8f098"/><ellipse cx="6.8" cy="8.9" rx="0.9" ry="1.1" fill="#a89a20"/></svg></td><td class="g"><span class="l">13</span></td><td class="r"></td><td class="r"></td><td class="r"></td><td class="r"></td><td class="r"></td><td class="r"></td><td class="r"></td><td class="r"></td></tr>
<tr class="b" style="height:27px"><td class="f"><span class="z">用于标签的</span><span class="l"> </span><span class="m">[[</span><span class="m a">maybe_unused</span><span class="m">]]</span></td><td class="p"><span class="a"><span class="l">N2662</span></span><svg class="pdf" width="19" height="17" viewBox="0 0 19 17"><defs><linearGradient id="pg" x1="0" y1="0" x2="1" y2="1"><stop offset="0" stop-color="#fbfbfb"/><stop offset="1" stop-color="#dcdcdc"/></linearGradient></defs><path d="M0.5 0.5H15L17.5 3V15.5H0.5Z" fill="url(#pg)" stroke="#b4b4b4"/><path d="M15 0.5V3H17.5" fill="#d0d0d0" stroke="#a8a8a8" stroke-width="0.8"/><path d="M11.6 3.9C11.2 5.5 11.6 8.2 12.4 10.2C13.4 11.6 15.8 12.1 18.6 12.1M12.2 10.4C10.6 11 8.2 13.6 6.2 15.8" fill="none" stroke="#c9505c" stroke-width="1.7" stroke-linecap="round"/><path d="M11.4 10.4C12.4 9.6 13.6 10.8 13.2 11.8" fill="none" stroke="#b04450" stroke-width="1"/></svg></td><td class="g"><span class="l">11</span></td><td class="g"><span class="l">16</span></td><td class="r"></td><td class="r"></td><td class="g"><span class="l">6.5</span></td><td class="g"><span class="l">2022.2</span></td><td class="r"></td><td class="r"></td><td class="r"></td></tr>
<tr class="b" style="height:28px"><td class="f"><span class="m a">#warning</span></td><td class="p"><span class="a"><span class="l">N2686</span></span><svg class="pdf" width="19" height="17" viewBox="0 0 19 17"><defs><linearGradient id="pg" x1="0" y1="0" x2="1" y2="1"><stop offset="0" stop-color="#fbfbfb"/><stop offset="1" stop-color="#dcdcdc"/></linearGradient></defs><path d="M0.5 0.5H15L17.5 3V15.5H0.5Z" fill="url(#pg)" stroke="#b4b4b4"/><path d="M15 0.5V3H17.5" fill="#d0d0d0" stroke="#a8a8a8" stroke-width="0.8"/><path d="M11.6 3.9C11.2 5.5 11.6 8.2 12.4 10.2C13.4 11.6 15.8 12.1 18.6 12.1M12.2 10.4C10.6 11 8.2 13.6 6.2 15.8" fill="none" stroke="#c9505c" stroke-width="1.7" stroke-linecap="round"/><path d="M11.4 10.4C12.4 9.6 13.6 10.8 13.2 11.8" fill="none" stroke="#b04450" stroke-width="1"/></svg></td><td class="g"><span class="z">是</span></td><td class="g"><span class="z">是</span></td><td class="r"></td><td class="g"><span class="z">是</span></td><td class="g"><span class="l">6.5</span></td><td class="g"><span class="z">是</span></td><td class="r"></td><td class="r"></td><td class="r"></td></tr>
<tr class="b" style="height:49px"><td class="f"><span class="z">位精确整数类型（</span><span class="box">_BitInt</span><span class="z">）</span></td><td class="p"><span class="a"><span class="l">N2763</span></span><svg class="pdf" width="19" height="17" viewBox="0 0 19 17"><defs><linearGradient id="pg" x1="0" y1="0" x2="1" y2="1"><stop offset="0" stop-color="#fbfbfb"/><stop offset="1" stop-color="#dcdcdc"/></linearGradient></defs><path d="M0.5 0.5H15L17.5 3V15.5H0.5Z" fill="url(#pg)" stroke="#b4b4b4"/><path d="M15 0.5V3H17.5" fill="#d0d0d0" stroke="#a8a8a8" stroke-width="0.8"/><path d="M11.6 3.9C11.2 5.5 11.6 8.2 12.4 10.2C13.4 11.6 15.8 12.1 18.6 12.1M12.2 10.4C10.6 11 8.2 13.6 6.2 15.8" fill="none" stroke="#c9505c" stroke-width="1.7" stroke-linecap="round"/><path d="M11.4 10.4C12.4 9.6 13.6 10.8 13.2 11.8" fill="none" stroke="#b04450" stroke-width="1"/></svg></td><td class="g"><span class="l">14 (</span><span class="z">部</span><br><span class="z">分</span><span class="l">)*</span></td><td class="g"><span class="l">15</span></td><td class="r"></td><td class="r"></td><td class="g"><span class="l">6.5</span></td><td class="g"><span class="l">2022.2</span></td><td class="r"></td><td class="r"></td><td class="r"></td></tr>
<tr class="b" style="height:27px"><td class="f"><span class="m">[[</span><span class="m a">noreturn</span><span class="m">]]</span></td><td class="p"><span class="a"><span class="l">N2764</span></span><svg class="pdf" width="19" height="17" viewBox="0 0 19 17"><defs><linearGradient id="pg" x1="0" y1="0" x2="1" y2="1"><stop offset="0" stop-color="#fbfbfb"/><stop offset="1" stop-color="#dcdcdc"/></linearGradient></defs><path d="M0.5 0.5H15L17.5 3V15.5H0.5Z" fill="url(#pg)" stroke="#b4b4b4"/><path d="M15 0.5V3H17.5" fill="#d0d0d0" stroke="#a8a8a8" stroke-width="0.8"/><path d="M11.6 3.9C11.2 5.5 11.6 8.2 12.4 10.2C13.4 11.6 15.8 12.1 18.6 12.1M12.2 10.4C10.6 11 8.2 13.6 6.2 15.8" fill="none" stroke="#c9505c" stroke-width="1.7" stroke-linecap="round"/><path d="M11.4 10.4C12.4 9.6 13.6 10.8 13.2 11.8" fill="none" stroke="#b04450" stroke-width="1"/></svg></td><td class="g"><span class="l">13</span></td><td class="g"><span class="l">15</span></td><td class="r"></td><td class="r"></td><td class="g"><span class="l">6.5</span></td><td class="g"><span class="l">2022.2</span></td><td class="r"></td><td class="r"></td><td class="r"></td></tr>
<tr class="b" style="height:28px"><td class="f"><span class="z">位精确整数常量的后缀</span></td><td class="p"><span class="a"><span class="l">N2775</span></span><svg class="pdf" width="19" height="17" viewBox="0 0 19 17"><defs><linearGradient id="pg" x1="0" y1="0" x2="1" y2="1"><stop offset="0" stop-color="#fbfbfb"/><stop offset="1" stop-color="#dcdcdc"/></linearGradient></defs><path d="M0.5 0.5H15L17.5 3V15.5H0.5Z" fill="url(#pg)" stroke="#b4b4b4"/><path d="M15 0.5V3H17.5" fill="#d0d0d0" stroke="#a8a8a8" stroke-width="0.8"/><path d="M11.6 3.9C11.2 5.5 11.6 8.2 12.4 10.2C13.4 11.6 15.8 12.1 18.6 12.1M12.2 10.4C10.6 11 8.2 13.6 6.2 15.8" fill="none" stroke="#c9505c" stroke-width="1.7" stroke-linecap="round"/><path d="M11.4 10.4C12.4 9.6 13.6 10.8 13.2 11.8" fill="none" stroke="#b04450" stroke-width="1"/></svg></td><td class="g"><span class="l">14</span></td><td class="g"><span class="l">15</span></td><td class="r"></td><td class="r"></td><td class="r"></td><td class="g"><span class="l">2022.2</span></td><td class="r"></td><td class="r"></td><td class="r"></td></tr>
<tr class="b" style="height:27px"><td class="f"><span class="z">预处理器条件中的</span><span class="l"> </span><span class="m a">__has_include</span></td><td class="p"><span class="a"><span class="l">N2799</span></span><svg class="pdf" width="19" height="17" viewBox="0 0 19 17"><defs><linearGradient id="pg" x1="0" y1="0" x2="1" y2="1"><stop offset="0" stop-color="#fbfbfb"/><stop offset="1" stop-color="#dcdcdc"/></linearGradient></defs><path d="M0.5 0.5H15L17.5 3V15.5H0.5Z" fill="url(#pg)" stroke="#b4b4b4"/><path d="M15 0.5V3H17.5" fill="#d0d0d0" stroke="#a8a8a8" stroke-width="0.8"/><path d="M11.6 3.9C11.2 5.5 11.6 8.2 12.4 10.2C13.4 11.6 15.8 12.1 18.6 12.1M12.2 10.4C10.6 11 8.2 13.6 6.2 15.8" fill="none" stroke="#c9505c" stroke-width="1.7" stroke-linecap="round"/><path d="M11.4 10.4C12.4 9.6 13.6 10.8 13.2 11.8" fill="none" stroke="#b04450" stroke-width="1"/></svg></td><td class="g"><span class="l">5</span></td><td class="g"><span class="z">是</span></td><td class="g"><span class="l">19.11*</span></td><td class="g"><span class="z">是</span></td><td class="g"><span class="l">6.5</span></td><td class="g"><span class="l">18.0</span></td><td class="r"></td><td class="r"></td><td class="r"></td></tr>
<tr class="b" style="height:28px"><td class="f"><span class="z">使用</span><span class="l"> Unicode </span><span class="z">标准附件</span><span class="l"> 31 </span><span class="z">的标识符语法</span></td><td class="p"><span class="a"><span class="l">N2836</span></span><svg class="pdf" width="19" height="17" viewBox="0 0 19 17"><defs><linearGradient id="pg" x1="0" y1="0" x2="1" y2="1"><stop offset="0" stop-color="#fbfbfb"/><stop offset="1" stop-color="#dcdcdc"/></linearGradient></defs><path d="M0.5 0.5H15L17.5 3V15.5H0.5Z" fill="url(#pg)" stroke="#b4b4b4"/><path d="M15 0.5V3H17.5" fill="#d0d0d0" stroke="#a8a8a8" stroke-width="0.8"/><path d="M11.6 3.9C11.2 5.5 11.6 8.2 12.4 10.2C13.4 11.6 15.8 12.1 18.6 12.1M12.2 10.4C10.6 11 8.2 13.6 6.2 15.8" fill="none" stroke="#c9505c" stroke-width="1.7" stroke-linecap="round"/><path d="M11.4 10.4C12.4 9.6 13.6 10.8 13.2 11.8" fill="none" stroke="#b04450" stroke-width="1"/></svg></td><td class="g"><span class="l">13</span></td><td class="g"><span class="l">15</span></td><td class="r"></td><td class="r"></td><td class="g"><span class="l">6.5</span></td><td class="g"><span class="l">2022.2</span></td><td class="r"></td><td class="r"></td><td class="r"></td></tr>
<tr class="b" style="height:27px"><td class="f"><span class="z">移除无原型的</span><span class="l"> </span><span class="a"><span class="z">函数声明</span></span></td><td class="p"><span class="a"><span class="l">N2841</span></span><svg class="lock" width="13" height="13" viewBox="0 0 13 13"><path d="M4 5.2V4.3C4 2.3 5.1 1.5 6.9 1.5C8.7 1.5 9.8 2.3 9.8 4.3V5.2" fill="none" stroke="#8c8c84" stroke-width="1.9"/><rect x="1.6" y="4.9" width="10.5" height="7.5" rx="0.7" fill="#efe070" stroke="#8e8c66" stroke-width="1"/><rect x="2.4" y="5.7" width="4" height="2" fill="#f8f098"/><ellipse cx="6.8" cy="8.9" rx="0.9" ry="1.1" fill="#a89a20"/></svg></td><td class="g"><span class="l">13</span></td><td class="g"><span class="l">15</span></td><td class="r"></td><td class="r"></td><td class="r"></td><td class="g"><span class="l">2022.2</span></td><td class="r"></td><td class="r"></td><td class="r"></td></tr>
<tr class="b" style="height:49px"><td class="f"><span class="a"><span class="z">空初始化器</span></span></td><td class="p"><span class="a"><span class="l">N2900</span></span><svg class="lock" width="13" height="13" viewBox="0 0 13 13"><path d="M4 5.2V4.3C4 2.3 5.1 1.5 6.9 1.5C8.7 1.5 9.8 2.3 9.8 4.3V5.2" fill="none" stroke="#8c8c84" stroke-width="1.9"/><rect x="1.6" y="4.9" width="10.5" height="7.5" rx="0.7" fill="#efe070" stroke="#8e8c66" stroke-width="1"/><rect x="2.4" y="5.7" width="4" height="2" fill="#f8f098"/><ellipse cx="6.8" cy="8.9" rx="0.9" ry="1.1" fill="#a89a20"/></svg></td><td class="g"><span class="z">部分</span><span class="l">*</span><br><span class="l">13</span></td><td class="y"><span class="z">部分</span><span class="l">*</span></td><td class="r"></td><td class="y"><span class="z">部分</span><span class="l">*</span></td><td class="y"><span class="z">部分</span><span class="l">*</span></td><td class="y"><span class="z">部分</span><span class="l">*</span></td><td class="r"></td><td class="r"></td><td class="r"></td></tr>
<tr class="b" style="height:48px"><td class="f"><span class="m a">typeof</span><span class="l"> </span><span class="z">和</span><span class="l"> </span><span class="m a">typeof_unqual</span></td><td class="p"><span class="a"><span class="l">N2927</span></span><svg class="lock" width="13" height="13" viewBox="0 0 13 13"><path d="M4 5.2V4.3C4 2.3 5.1 1.5 6.9 1.5C8.7 1.5 9.8 2.3 9.8 4.3V5.2" fill="none" stroke="#8c8c84" stroke-width="1.9"/><rect x="1.6" y="4.9" width="10.5" height="7.5" rx="0.7" fill="#efe070" stroke="#8e8c66" stroke-width="1"/><rect x="2.4" y="5.7" width="4" height="2" fill="#f8f098"/><ellipse cx="6.8" cy="8.9" rx="0.9" ry="1.1" fill="#a89a20"/></svg><br><span class="a"><span class="l">N2930</span></span><svg class="pdf" width="19" height="17" viewBox="0 0 19 17"><defs><linearGradient id="pg" x1="0" y1="0" x2="1" y2="1"><stop offset="0" stop-color="#fbfbfb"/><stop offset="1" stop-color="#dcdcdc"/></linearGradient></defs><path d="M0.5 0.5H15L17.5 3V15.5H0.5Z" fill="url(#pg)" stroke="#b4b4b4"/><path d="M15 0.5V3H17.5" fill="#d0d0d0" stroke="#a8a8a8" stroke-width="0.8"/><path d="M11.6 3.9C11.2 5.5 11.6 8.2 12.4 10.2C13.4 11.6 15.8 12.1 18.6 12.1M12.2 10.4C10.6 11 8.2 13.6 6.2 15.8" fill="none" stroke="#c9505c" stroke-width="1.7" stroke-linecap="round"/><path d="M11.4 10.4C12.4 9.6 13.6 10.8 13.2 11.8" fill="none" stroke="#b04450" stroke-width="1"/></svg></td><td class="g"><span class="z">部分</span><span class="l">*</span><br><span class="l">13</span></td><td class="g"><span class="z">部分</span><span class="l">*</span><br><span class="l">16</span></td><td class="g"><span class="l">19.39*</span></td><td class="y"><span class="z">部分</span><span class="l">*</span></td><td class="y"><span class="z">部分</span><span class="l">*</span></td><td class="y"><span class="z">部分</span><span class="l">*</span></td><td class="r"></td><td class="r"></td><td class="y"><span class="z">部分</span><span class="l">*</span></td></tr>
<tr class="b" style="height:28px"><td class="f"><span class="z">关键字的新拼写</span></td><td class="p"><span class="a"><span class="l">N2934</span></span><svg class="pdf" width="19" height="17" viewBox="0 0 19 17"><defs><linearGradient id="pg" x1="0" y1="0" x2="1" y2="1"><stop offset="0" stop-color="#fbfbfb"/><stop offset="1" stop-color="#dcdcdc"/></linearGradient></defs><path d="M0.5 0.5H15L17.5 3V15.5H0.5Z" fill="url(#pg)" stroke="#b4b4b4"/><path d="M15 0.5V3H17.5" fill="#d0d0d0" stroke="#a8a8a8" stroke-width="0.8"/><path d="M11.6 3.9C11.2 5.5 11.6 8.2 12.4 10.2C13.4 11.6 15.8 12.1 18.6 12.1M12.2 10.4C10.6 11 8.2 13.6 6.2 15.8" fill="none" stroke="#c9505c" stroke-width="1.7" stroke-linecap="round"/><path d="M11.4 10.4C12.4 9.6 13.6 10.8 13.2 11.8" fill="none" stroke="#b04450" stroke-width="1"/></svg></td><td class="g"><span class="l">13</span></td><td class="y"><span class="l">16</span></td><td class="r"></td><td class="r"></td><td class="g"><span class="l">6.5</span></td><td class="r"></td><td class="r"></td><td class="r"></td><td class="r"></td></tr>
<tr class="b" style="height:28px"><td class="f"><span class="z">预定义的</span><span class="l"> </span><span class="box kw">true</span><span class="l"> </span><span class="a"><span class="z">和</span></span><span class="l"> </span><span class="box kw">false</span></td><td class="p"><span class="a"><span class="l">N2935</span></span><svg class="pdf" width="19" height="17" viewBox="0 0 19 17"><defs><linearGradient id="pg" x1="0" y1="0" x2="1" y2="1"><stop offset="0" stop-color="#fbfbfb"/><stop offset="1" stop-color="#dcdcdc"/></linearGradient></defs><path d="M0.5 0.5H15L17.5 3V15.5H0.5Z" fill="url(#pg)" stroke="#b4b4b4"/><path d="M15 0.5V3H17.5" fill="#d0d0d0" stroke="#a8a8a8" stroke-width="0.8"/><path d="M11.6 3.9C11.2 5.5 11.6 8.2 12.4 10.2C13.4 11.6 15.8 12.1 18.6 12.1M12.2 10.4C10.6 11 8.2 13.6 6.2 15.8" fill="none" stroke="#c9505c" stroke-width="1.7" stroke-linecap="round"/><path d="M11.4 10.4C12.4 9.6 13.6 10.8 13.2 11.8" fill="none" stroke="#b04450" stroke-width="1"/></svg></td><td class="g"><span class="l">13</span></td><td class="g"><span class="l">15</span></td><td class="r"></td><td class="r"></td><td class="r"></td><td class="g"><span class="l">2022.2</span></td><td class="r"></td><td class="r"></td><td class="r"></td></tr>
<tr class="b" style="height:29px"><td class="f"><span class="m">[[</span><span class="m a">unsequenced</span><span class="m">]]</span><span class="l"> </span><span class="z">和</span><span class="l"> </span><span class="m">[[</span><span class="m a">reproducible</span><span class="m">]]</span></td><td class="p"><span class="a"><span class="l">N2956</span></span><svg class="lock" width="13" height="13" viewBox="0 0 13 13"><path d="M4 5.2V4.3C4 2.3 5.1 1.5 6.9 1.5C8.7 1.5 9.8 2.3 9.8 4.3V5.2" fill="none" stroke="#8c8c84" stroke-width="1.9"/><rect x="1.6" y="4.9" width="10.5" height="7.5" rx="0.7" fill="#efe070" stroke="#8e8c66" stroke-width="1"/><rect x="2.4" y="5.7" width="4" height="2" fill="#f8f098"/><ellipse cx="6.8" cy="8.9" rx="0.9" ry="1.1" fill="#a89a20"/></svg></td><td class="g"><span class="l">15</span></td><td class="r"></td><td class="r"></td><td class="r"></td><td class="r"></td><td class="r"></td><td class="r"></td><td class="r"></td><td class="r"></td></tr>
<tr class="b" style="height:28px"><td class="f"><span class="z">放宽</span><span class="l"> </span><span class="a"><span class="z">可变参数列表</span></span><span class="l"> </span><span class="z">的要求</span></td><td class="p"><span class="a"><span class="l">N2975</span></span><svg class="pdf" width="19" height="17" viewBox="0 0 19 17"><defs><linearGradient id="pg" x1="0" y1="0" x2="1" y2="1"><stop offset="0" stop-color="#fbfbfb"/><stop offset="1" stop-color="#dcdcdc"/></linearGradient></defs><path d="M0.5 0.5H15L17.5 3V15.5H0.5Z" fill="url(#pg)" stroke="#b4b4b4"/><path d="M15 0.5V3H17.5" fill="#d0d0d0" stroke="#a8a8a8" stroke-width="0.8"/><path d="M11.6 3.9C11.2 5.5 11.6 8.2 12.4 10.2C13.4 11.6 15.8 12.1 18.6 12.1M12.2 10.4C10.6 11 8.2 13.6 6.2 15.8" fill="none" stroke="#c9505c" stroke-width="1.7" stroke-linecap="round"/><path d="M11.4 10.4C12.4 9.6 13.6 10.8 13.2 11.8" fill="none" stroke="#b04450" stroke-width="1"/></svg></td><td class="g"><span class="l">13</span></td><td class="g"><span class="l">16</span></td><td class="r"></td><td class="r"></td><td class="g"><span class="l">6.5</span></td><td class="g"><span class="l">2023.1</span></td><td class="r"></td><td class="r"></td><td class="r"></td></tr>
<tr class="b" style="height:28px"><td class="f"><span class="z">对象定义中的类型推断</span></td><td class="p"><span class="a"><span class="l">N3007</span></span><svg class="lock" width="13" height="13" viewBox="0 0 13 13"><path d="M4 5.2V4.3C4 2.3 5.1 1.5 6.9 1.5C8.7 1.5 9.8 2.3 9.8 4.3V5.2" fill="none" stroke="#8c8c84" stroke-width="1.9"/><rect x="1.6" y="4.9" width="10.5" height="7.5" rx="0.7" fill="#efe070" stroke="#8e8c66" stroke-width="1"/><rect x="2.4" y="5.7" width="4" height="2" fill="#f8f098"/><ellipse cx="6.8" cy="8.9" rx="0.9" ry="1.1" fill="#a89a20"/></svg></td><td class="g"><span class="l">13</span></td><td class="g"><span class="l">18</span></td><td class="r"></td><td class="r"></td><td class="r"></td><td class="r"></td><td class="r"></td><td class="r"></td><td class="r"></td></tr>
<tr class="b" style="height:27px"><td class="f"><span class="m a">#embed</span></td><td class="p"><span class="a"><span class="l">N3017</span></span><svg class="lock" width="13" height="13" viewBox="0 0 13 13"><path d="M4 5.2V4.3C4 2.3 5.1 1.5 6.9 1.5C8.7 1.5 9.8 2.3 9.8 4.3V5.2" fill="none" stroke="#8c8c84" stroke-width="1.9"/><rect x="1.6" y="4.9" width="10.5" height="7.5" rx="0.7" fill="#efe070" stroke="#8e8c66" stroke-width="1"/><rect x="2.4" y="5.7" width="4" height="2" fill="#f8f098"/><ellipse cx="6.8" cy="8.9" rx="0.9" ry="1.1" fill="#a89a20"/></svg></td><td class="g"><span class="l">15</span></td><td class="g"><span class="l">19</span></td><td class="r"></td><td class="r"></td><td class="r"></td><td class="r"></td><td class="r"></td><td class="r"></td><td class="r"></td></tr>
<tr class="b" style="height:28px"><td class="f"><span class="m a">constexpr</span><span class="l"> </span><span class="z">对象</span></td><td class="p"><span class="a"><span class="l">N3018</span></span><svg class="lock" width="13" height="13" viewBox="0 0 13 13"><path d="M4 5.2V4.3C4 2.3 5.1 1.5 6.9 1.5C8.7 1.5 9.8 2.3 9.8 4.3V5.2" fill="none" stroke="#8c8c84" stroke-width="1.9"/><rect x="1.6" y="4.9" width="10.5" height="7.5" rx="0.7" fill="#efe070" stroke="#8e8c66" stroke-width="1"/><rect x="2.4" y="5.7" width="4" height="2" fill="#f8f098"/><ellipse cx="6.8" cy="8.9" rx="0.9" ry="1.1" fill="#a89a20"/></svg></td><td class="g"><span class="l">13</span></td><td class="g"><span class="l">19</span></td><td class="r"></td><td class="r"></td><td class="r"></td><td class="r"></td><td class="r"></td><td class="r"></td><td class="r"></td></tr>
<tr class="b" style="height:27px"><td class="f"><span class="z">改进的普通枚举</span></td><td class="p"><span class="a"><span class="l">N3029</span></span><svg class="lock" width="13" height="13" viewBox="0 0 13 13"><path d="M4 5.2V4.3C4 2.3 5.1 1.5 6.9 1.5C8.7 1.5 9.8 2.3 9.8 4.3V5.2" fill="none" stroke="#8c8c84" stroke-width="1.9"/><rect x="1.6" y="4.9" width="10.5" height="7.5" rx="0.7" fill="#efe070" stroke="#8e8c66" stroke-width="1"/><rect x="2.4" y="5.7" width="4" height="2" fill="#f8f098"/><ellipse cx="6.8" cy="8.9" rx="0.9" ry="1.1" fill="#a89a20"/></svg></td><td class="g"><span class="l">13</span></td><td class="g"><span class="l">20*</span></td><td class="r"></td><td class="r"></td><td class="r"></td><td class="r"></td><td class="r"></td><td class="r"></td><td class="r"></td></tr>
<tr class="b" style="height:28px"><td class="f"><span class="z">具有固定底层类型的枚举</span></td><td class="p"><span class="a"><span class="l">N3030</span></span><svg class="lock" width="13" height="13" viewBox="0 0 13 13"><path d="M4 5.2V4.3C4 2.3 5.1 1.5 6.9 1.5C8.7 1.5 9.8 2.3 9.8 4.3V5.2" fill="none" stroke="#8c8c84" stroke-width="1.9"/><rect x="1.6" y="4.9" width="10.5" height="7.5" rx="0.7" fill="#efe070" stroke="#8e8c66" stroke-width="1"/><rect x="2.4" y="5.7" width="4" height="2" fill="#f8f098"/><ellipse cx="6.8" cy="8.9" rx="0.9" ry="1.1" fill="#a89a20"/></svg></td><td class="g"><span class="l">13</span></td><td class="g"><span class="l">20*</span></td><td class="r"></td><td class="r"></td><td class="r"></td><td class="r"></td><td class="r"></td><td class="r"></td><td class="r"></td></tr>
<tr class="b" style="height:48px"><td class="f"><span class="m a">__VA_OPT__</span></td><td class="p"><span class="a"><span class="l">N3033</span></span><svg class="lock" width="13" height="13" viewBox="0 0 13 13"><path d="M4 5.2V4.3C4 2.3 5.1 1.5 6.9 1.5C8.7 1.5 9.8 2.3 9.8 4.3V5.2" fill="none" stroke="#8c8c84" stroke-width="1.9"/><rect x="1.6" y="4.9" width="10.5" height="7.5" rx="0.7" fill="#efe070" stroke="#8e8c66" stroke-width="1"/><rect x="2.4" y="5.7" width="4" height="2" fill="#f8f098"/><ellipse cx="6.8" cy="8.9" rx="0.9" ry="1.1" fill="#a89a20"/></svg></td><td class="g"><span class="l">8</span><br><span class="l">13</span></td><td class="y"><span class="l">12</span></td><td class="g"><span class="l">19.39*</span></td><td class="r"></td><td class="g"><span class="l">6.5</span></td><td class="r"></td><td class="r"></td><td class="r"></td><td class="r"></td></tr>
<tr class="b" style="height:28px"><td class="f"><span class="z">复合字面量的存储类说明符</span></td><td class="p"><span class="a"><span class="l">N3038</span></span><svg class="lock" width="13" height="13" viewBox="0 0 13 13"><path d="M4 5.2V4.3C4 2.3 5.1 1.5 6.9 1.5C8.7 1.5 9.8 2.3 9.8 4.3V5.2" fill="none" stroke="#8c8c84" stroke-width="1.9"/><rect x="1.6" y="4.9" width="10.5" height="7.5" rx="0.7" fill="#efe070" stroke="#8e8c66" stroke-width="1"/><rect x="2.4" y="5.7" width="4" height="2" fill="#f8f098"/><ellipse cx="6.8" cy="8.9" rx="0.9" ry="1.1" fill="#a89a20"/></svg></td><td class="g"><span class="l">13</span></td><td class="r"></td><td class="r"></td><td class="r"></td><td class="r"></td><td class="r"></td><td class="r"></td><td class="r"></td><td class="r"></td></tr>
<tr class="b" style="height:28px"><td class="f"><span class="m a">nullptr</span></td><td class="p"><span class="a"><span class="l">N3042</span></span><svg class="lock" width="13" height="13" viewBox="0 0 13 13"><path d="M4 5.2V4.3C4 2.3 5.1 1.5 6.9 1.5C8.7 1.5 9.8 2.3 9.8 4.3V5.2" fill="none" stroke="#8c8c84" stroke-width="1.9"/><rect x="1.6" y="4.9" width="10.5" height="7.5" rx="0.7" fill="#efe070" stroke="#8e8c66" stroke-width="1"/><rect x="2.4" y="5.7" width="4" height="2" fill="#f8f098"/><ellipse cx="6.8" cy="8.9" rx="0.9" ry="1.1" fill="#a89a20"/></svg></td><td class="g"><span class="l">13</span></td><td class="y"><span class="l">16</span></td><td class="r"></td><td class="r"></td><td class="r"></td><td class="r"></td><td class="r"></td><td class="r"></td><td class="r"></td></tr>
<tr class="bot"><th class="fh"><div class="hl"><span class="l">C23 </span><span class="z">特性</span></div></th><th class="fh"><div class="hl"><span class="z">提案</span></div></th><th class="rot"><div class="rt"><span class="l">GCC</span></div></th><th class="rot"><div class="rt"><span class="l">Clang</span></div></th><th class="rot"><div class="rt"><span class="l">MSVC</span></div></th><th class="rot"><div class="rt"><span class="l">Apple Clang</span></div></th><th class="rot"><div class="rt"><span class="l">EDG eccp</span></div></th><th class="rot"><div class="rt"><span class="l">Intel C++</span></div></th><th class="rot"><div class="rt"><span class="l">Nvidia HPC C++ (</span><span class="z">前</span><span class="l"> PGI)*</span></div></th><th class="rot"><div class="rt"><span class="l">Nvidia nvcc</span></div></th><th class="rot"><div class="rt"><span class="l">Cray</span></div></th></tr>
</table>
<div class="abs" style="left:1208px;top:447px;width:1px;height:1951px;background:#aaa"></div>
<div class="abs" style="left:1199px;top:2397px;width:10px;height:1px;background:#aaa"></div>
</body></html>
